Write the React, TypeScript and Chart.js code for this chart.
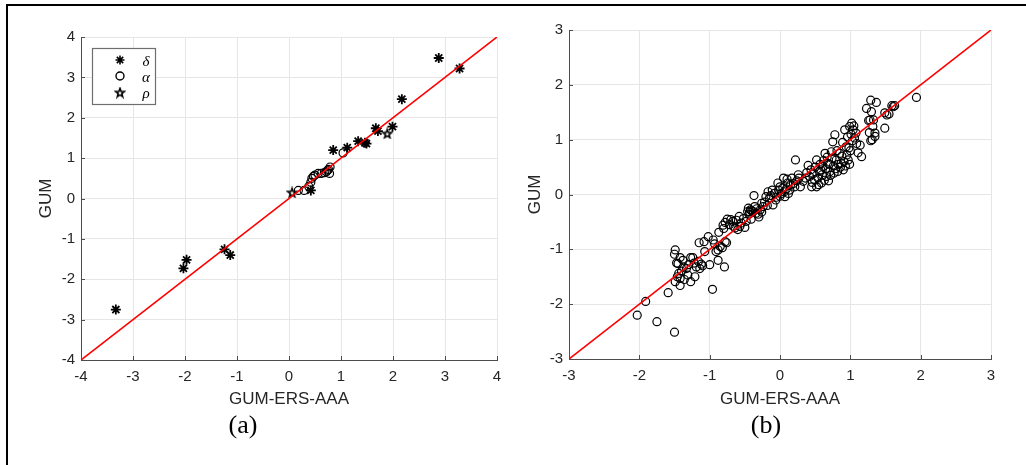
import React, { useEffect, useRef } from 'react';
import { Chart, registerables } from 'chart.js';

Chart.register(...registerables);

// ---------- data: panel (a) ----------
const aRange = [-4, 4];
const deltaX = [-3.33, -2.03, -1.97, -1.24, -1.13, 0.42, 0.85, 1.12, 1.33, 1.46, 1.49, 1.67, 1.71, 1.99, 2.17, 2.88, 3.28];
const deltaY = [-2.75, -1.73, -1.52, -1.26, -1.40, 0.2, 1.20, 1.26, 1.42, 1.38, 1.36, 1.74, 1.67, 1.78, 2.46, 3.48, 3.22];
const alphaX = [0.18, 0.29, 0.38, 0.42, 0.44, 0.47, 0.50, 0.56, 0.62, 0.68, 0.72, 0.76, 0.79, 0.78, 0.74, 1.04];
const alphaY = [0.20, 0.20, 0.30, 0.40, 0.50, 0.55, 0.58, 0.62, 0.62, 0.64, 0.66, 0.72, 0.78, 0.62, 0.70, 1.13];
const rhoX = [0.06, 1.89];
const rhoY = [0.15, 1.61];
const legendLabels = ['δ', 'α', 'ρ'];

// ---------- data: panel (b) ----------
const bRange = [-3, 3];
const bX = [
  -2.03, -1.91, -1.75, -1.59, -1.50, -0.96,
  -1.49, -1.50, -1.47, -1.44, -1.49, -1.42, -1.42, -1.42, -1.37, -1.33, -1.27, -1.24, -1.31, -1.27,
  -1.21, -1.19, -1.14, -1.12, -1.45, -1.40, -1.36, -1.30, -1.22, -1.16, -1.46, -1.38,
  -1.15, -1.08, -1.02, -0.95, -1.00, -1.07, -0.91, -0.88, -0.87, -0.82, -0.79, -0.88, -0.78, -0.81,
  -0.78, -1.10, -0.93, -0.85, -0.80, -0.76,
  -0.75, -0.70, -0.67, -0.64, -0.60, -0.58, -0.55, -0.48, -0.46, -0.42, -0.38, -0.36, -0.34, -0.30,
  -0.37, -0.72, -0.66, -0.62, -0.57, -0.52, -0.50, -0.44, -0.41, -0.40, -0.33, -0.31, -0.28, -0.26,
  -0.45, -0.43,
  -0.26, -0.20, -0.17, -0.15, -0.11, -0.10, -0.06, -0.03, 0.00, 0.02, 0.05, 0.07, 0.11, 0.14, 0.17,
  0.22, 0.21, 0.26, 0.29, -0.22, -0.18, -0.13, -0.08, -0.05, -0.02, 0.00, 0.04, 0.06, 0.09, 0.12,
  0.15, 0.19, 0.24, 0.27, -0.24, 0.10,
  0.33, 0.40, 0.42, 0.45, 0.49, 0.52, 0.52, 0.56, 0.59, 0.61, 0.64, 0.66, 0.68, 0.71, 0.73, 0.75,
  0.77, 0.78, 0.80, 0.82, 0.85, 0.87, 0.90, 0.92, 0.94, 0.96, 0.97, 0.36, 0.38, 0.44, 0.47, 0.50,
  0.54, 0.57, 0.60, 0.62, 0.65, 0.67, 0.70, 0.72, 0.74, 0.76, 0.79, 0.81, 0.83, 0.86, 0.88, 0.89,
  0.91, 0.93, 0.95, 0.98, 0.99, 0.55, 0.63, 0.69, 0.46, 0.58,
  0.99, 1.02, 1.04, 1.06, 1.09, 1.14, 1.11, 1.16, 1.23, 1.29, 1.30, 1.28, 1.32, 1.35, 1.37, 1.31,
  1.35, 1.49, 1.49, 1.55, 1.59, 1.63, 1.94, 1.01, 1.03, 1.05, 1.08, 1.00, 1.27, 1.33, 1.29, 1.26,
  1.61, 1.52,
];
const bY = [
  -2.20, -1.95, -2.32, -1.79, -2.51, -1.73,
  -1.01, -1.09, -1.25, -1.44, -1.59, -1.15, -1.53, -1.66, -1.32, -1.35, -1.15, -1.15, -1.47, -1.59,
  -1.50, -1.32, -1.35, -1.27, -1.26, -1.40, -1.55, -1.28, -1.25, -1.22, -1.50, -1.20,
  -0.88, -0.86, -0.77, -0.83, -1.28, -1.04, -1.04, -1.01, -0.69, -0.97, -1.32, -1.20, -0.86, -0.56,
  -0.51, -1.30, -0.90, -0.95, -0.62, -0.88,
  -0.45, -0.46, -0.49, -0.61, -0.64, -0.40, -0.52, -0.49, -0.31, -0.28, -0.31, -0.22, -0.34, -0.41,
  -0.02, -0.55, -0.58, -0.47, -0.58, -0.44, -0.60, -0.36, -0.45, -0.30, -0.26, -0.36, -0.28, -0.32,
  -0.25, -0.32,
  -0.16, -0.04, 0.05, -0.07, 0.08, -0.19, -0.10, 0.21, 0.14, 0.02, 0.30, -0.04, 0.21, 0.08, 0.30,
  0.63, 0.14, 0.36, 0.14, -0.14, -0.20, -0.02, 0.02, -0.05, 0.08, -0.03, 0.12, 0.05, 0.10, 0.02,
  0.18, 0.20, 0.25, 0.30, -0.22, 0.28,
  0.24, 0.53, 0.33, 0.14, 0.27, 0.63, 0.14, 0.42, 0.21, 0.51, 0.75, 0.33, 0.57, 0.42, 0.78, 0.96,
  0.39, 1.09, 0.63, 0.42, 0.75, 0.57, 0.45, 1.18, 0.87, 1.05, 0.63, 0.30, 0.40, 0.45, 0.38, 0.50,
  0.30, 0.55, 0.36, 0.62, 0.47, 0.68, 0.55, 0.35, 0.66, 0.52, 0.47, 0.80, 0.55, 0.50, 0.70, 0.95,
  0.60, 0.52, 0.72, 0.85, 0.55, 0.18, 0.26, 0.25, 0.22, 0.45,
  1.24, 1.30, 1.18, 1.03, 0.93, 0.90, 0.76, 0.69, 1.57, 1.72, 1.51, 1.36, 1.24, 1.12, 1.68, 1.00,
  1.06, 1.21, 1.49, 1.47, 1.62, 1.62, 1.77, 1.10, 0.98, 1.25, 1.12, 0.80, 1.13, 1.36, 0.98, 1.35,
  1.60, 1.45,
];

const xTitle = 'GUM-ERS-AAA';
const yTitle = 'GUM';

const SANS = "'Liberation Sans', Arial, Helvetica, sans-serif";
const SERIF = "'Liberation Serif', 'Times New Roman', serif";

const pts = (xs: number[], ys: number[]) => xs.map((x, i) => ({ x, y: ys[i] }));

function pentagramPath(ctx: CanvasRenderingContext2D, cx: number, cy: number, R: number) {
  const r = R * 0.42;
  ctx.beginPath();
  for (let i = 0; i < 10; i++) {
    const ang = -Math.PI / 2 + (i * Math.PI) / 5;
    const rad = i % 2 === 0 ? R : r;
    const px = cx + rad * Math.cos(ang);
    const py = cy + rad * Math.sin(ang);
    if (i === 0) ctx.moveTo(px, py);
    else ctx.lineTo(px, py);
  }
  ctx.closePath();
}

function makePentagram(): HTMLCanvasElement {
  const c = document.createElement('canvas');
  c.width = 12;
  c.height = 12;
  const ctx = c.getContext('2d')!;
  ctx.strokeStyle = '#000';
  ctx.lineWidth = 1.6;
  ctx.lineJoin = 'miter';
  pentagramPath(ctx, 6, 6.5, 4.6);
  ctx.stroke();
  return c;
}

const inwardTicks = {
  id: 'inwardTicks',
  afterDraw(chart: any) {
    const { ctx, chartArea, scales } = chart;
    ctx.save();
    ctx.strokeStyle = '#4d4d4d';
    ctx.lineWidth = 1;
    ctx.beginPath();
    scales.x.ticks.forEach((t: any) => {
      const px = Math.round(scales.x.getPixelForValue(t.value)) + 0.5;
      ctx.moveTo(px, chartArea.bottom);
      ctx.lineTo(px, chartArea.bottom - 4);
    });
    scales.y.ticks.forEach((t: any) => {
      const py = Math.round(scales.y.getPixelForValue(t.value)) + 0.5;
      ctx.moveTo(chartArea.left, py);
      ctx.lineTo(chartArea.left + 4, py);
    });
    ctx.stroke();
    ctx.restore();
  },
};

function makeLegendPlugin(star: HTMLCanvasElement) {
  return {
    id: 'boxLegend',
    afterDraw(chart: any) {
      const { ctx } = chart;
      ctx.save();
      const bx = 92.5, by = 48.5, bw = 63, bh = 56;
      ctx.fillStyle = '#fff';
      ctx.fillRect(bx, by, bw, bh);
      ctx.strokeStyle = '#6e6e6e';
      ctx.lineWidth = 1.2;
      ctx.strokeRect(bx, by, bw, bh);
      const mx = 120;
      const rows = [60, 76, 92.5];
      // asterisk
      ctx.strokeStyle = '#000';
      ctx.lineWidth = 1.6;
      ctx.beginPath();
      const r = 4.5;
      for (let k = 0; k < 4; k++) {
        const a = (k * Math.PI) / 4;
        ctx.moveTo(mx - r * Math.cos(a), rows[0] - r * Math.sin(a));
        ctx.lineTo(mx + r * Math.cos(a), rows[0] + r * Math.sin(a));
      }
      ctx.stroke();
      // circle
      ctx.lineWidth = 1.4;
      ctx.beginPath();
      ctx.arc(mx, rows[1], 4, 0, Math.PI * 2);
      ctx.stroke();
      // pentagram
      ctx.drawImage(star, mx - 6, rows[2] - 6);
      // labels
      ctx.fillStyle = '#000';
      ctx.font = `italic 15px ${SERIF}`;
      ctx.textAlign = 'center';
      ctx.textBaseline = 'middle';
      legendLabels.forEach((l, i) => ctx.fillText(l, 146, rows[i] + 2));
      ctx.restore();
    },
  };
}

function scaleOpts(range: number[], title: string, axis: 'x' | 'y', size: number, titlePad: number) {
  return {
    type: 'linear',
    min: range[0],
    max: range[1],
    ticks: {
      stepSize: 1,
      autoSkip: false,
      maxRotation: 0,
      color: '#262626',
      font: { family: SANS, size: 15 },
      padding: axis === 'x' ? 8 : 6,
    },
    grid: { color: '#e6e6e6', lineWidth: 1, drawTicks: false },
    border: { display: true, color: '#4d4d4d', width: 1 },
    title: {
      display: true,
      text: title,
      color: '#262626',
      font: { family: SANS, size: 17 },
      padding: axis === 'x' ? { top: 0, bottom: titlePad } : { top: titlePad, bottom: 0 },
    },
    afterFit: (s: any) => {
      if (axis === 'x') s.height = size;
      else s.width = size;
    },
  };
}

export default function App() {
  const leftRef = useRef<HTMLCanvasElement>(null);
  const rightRef = useRef<HTMLCanvasElement>(null);

  useEffect(() => {
    const star = makePentagram();
    const c1 = new Chart(leftRef.current!, {
      type: 'scatter',
      data: {
        datasets: [
          {
            label: 'y=x',
            data: pts(aRange, aRange),
            showLine: true,
            borderColor: '#ff0000',
            borderWidth: 1.6,
            pointRadius: 0,
          },
          {
            label: legendLabels[0],
            data: pts(deltaX, deltaY),
            pointStyle: 'star',
            pointRadius: 5,
            borderColor: '#000',
            backgroundColor: '#000',
            pointBorderWidth: 1.8,
          },
          {
            label: legendLabels[1],
            data: pts(alphaX, alphaY),
            pointStyle: 'circle',
            pointRadius: 4,
            borderColor: '#000',
            backgroundColor: 'rgba(0,0,0,0)',
            pointBorderWidth: 1.2,
          },
          {
            label: legendLabels[2],
            data: pts(rhoX, rhoY),
            pointStyle: star,
            pointRadius: 5,
            borderColor: '#000',
            backgroundColor: 'rgba(0,0,0,0)',
          },
        ],
      } as any,
      options: {
        animation: false,
        responsive: false,
        devicePixelRatio: 1,
        layout: { padding: { top: 37, right: 18, left: 0, bottom: 0 } },
        plugins: { legend: { display: false }, tooltip: { enabled: false } },
        scales: {
          x: scaleOpts(aRange, xTitle, 'x', 60, 10),
          y: scaleOpts(aRange, yTitle, 'y', 81, 36),
        } as any,
      },
      plugins: [inwardTicks, makeLegendPlugin(star)],
    });

    const c2 = new Chart(rightRef.current!, {
      type: 'scatter',
      data: {
        datasets: [
          {
            label: 'y=x',
            data: pts(bRange, bRange),
            showLine: true,
            borderColor: '#ff0000',
            borderWidth: 1.6,
            pointRadius: 0,
          },
          {
            label: 'b',
            data: pts(bX, bY),
            pointStyle: 'circle',
            pointRadius: 4,
            borderColor: '#000',
            backgroundColor: 'rgba(0,0,0,0)',
            pointBorderWidth: 1.2,
          },
        ],
      } as any,
      options: {
        animation: false,
        responsive: false,
        devicePixelRatio: 1,
        layout: { padding: { top: 30, right: 35, left: 0, bottom: 0 } },
        plugins: { legend: { display: false }, tooltip: { enabled: false } },
        scales: {
          x: scaleOpts(bRange, xTitle, 'x', 61, 10),
          y: scaleOpts(bRange, yTitle, 'y', 54, 10),
        } as any,
      },
      plugins: [inwardTicks],
    });

    return () => {
      c1.destroy();
      c2.destroy();
    };
  }, []);

  return (
    <div style={{ position: 'fixed', left: 0, top: 0, width: 1026, height: 465, background: '#fff', overflow: 'hidden' }}>
      <div
        style={{
          position: 'absolute',
          left: 6,
          top: 4,
          width: 1030,
          height: 470,
          borderTop: '2.5px solid #000',
          borderLeft: '2.5px solid #000',
        }}
      />
      <canvas ref={leftRef} width={515} height={420} style={{ position: 'absolute', left: 0, top: 0, width: 515, height: 420 }} />
      <canvas ref={rightRef} width={511} height={420} style={{ position: 'absolute', left: 515, top: 0, width: 511, height: 420 }} />
      <div style={{ position: 'absolute', left: 193, top: 410, width: 100, textAlign: 'center', font: `26px ${SERIF}`, lineHeight: '30px', color: '#000' }}>(a)</div>
      <div style={{ position: 'absolute', left: 716, top: 410, width: 100, textAlign: 'center', font: `26px ${SERIF}`, lineHeight: '30px', color: '#000' }}>(b)</div>
    </div>
  );
}
